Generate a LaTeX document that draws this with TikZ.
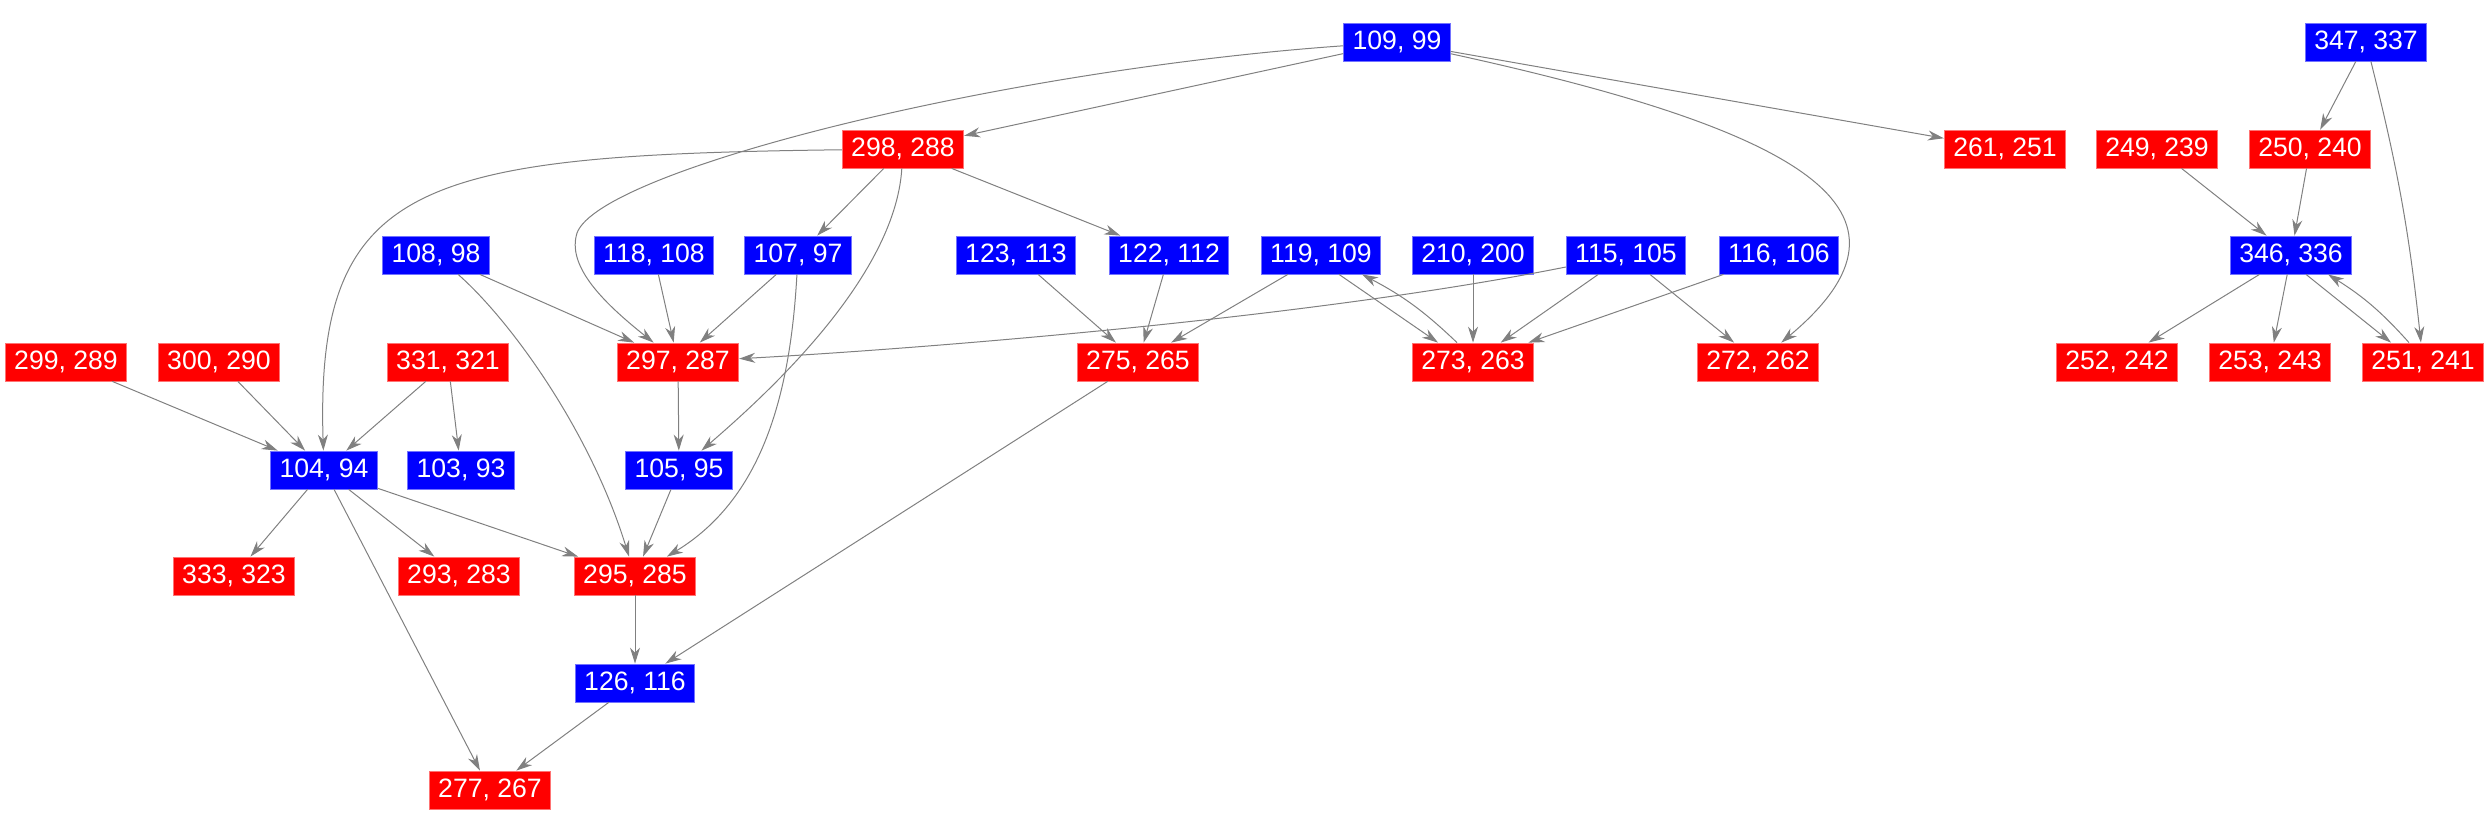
\documentclass[tikz,border=0pt]{standalone}
\usepackage{fontspec}
\setmainfont{Liberation Sans}
\usetikzlibrary{arrows.meta,calc}

\begin{document}
\begin{tikzpicture}[x=0.5pt,y=-0.5pt,
  box/.style={text=white,line width=0.4pt,inner xsep=4.5pt,inner ysep=0pt,minimum height=19pt,font=\fontsize{13.3}{16}\selectfont},
  bluebox/.style={box,fill=blue,draw=blue!55!white},
  redbox/.style={box,fill=red,draw=red!55!white},
  edge/.style={draw=gray,line width=0.5pt,-{Stealth[length=8pt,width=5pt,inset=2.5pt]}}]
\useasboundingbox (0,0) rectangle (2488,831);

% row 0 and 1
\node[bluebox] (v109) at (1397,42) {109, 99};
\node[bluebox] (v347) at (2366,42) {347, 337};
\node[redbox] (v298) at (903,149) {298, 288};
\node[redbox] (v261) at (2005,149) {261, 251};
\node[redbox] (v249) at (2157,149) {249, 239};
\node[redbox] (v250) at (2310,149) {250, 240};
% row 2
\node[bluebox] (v108) at (436,255) {108, 98};
\node[bluebox] (v118) at (654,255) {118, 108};
\node[bluebox] (v107) at (798,255) {107, 97};
\node[bluebox] (v123) at (1016,255) {123, 113};
\node[bluebox] (v122) at (1169,255) {122, 112};
\node[bluebox] (v119) at (1321,255) {119, 109};
\node[bluebox] (v210) at (1473,255) {210, 200};
\node[bluebox] (v115) at (1626,255) {115, 105};
\node[bluebox] (v116) at (1779,255) {116, 106};
\node[bluebox] (v346) at (2291,255) {346, 336};
% row 3
\node[redbox] (v299) at (66,362) {299, 289};
\node[redbox] (v300) at (219,362) {300, 290};
\node[redbox] (v331) at (448,362) {331, 321};
\node[redbox] (v297) at (678,362) {297, 287};
\node[redbox] (v275) at (1138,362) {275, 265};
\node[redbox] (v273) at (1473,362) {273, 263};
\node[redbox] (v272) at (1758,362) {272, 262};
\node[redbox] (v252) at (2117,362) {252, 242};
\node[redbox] (v253) at (2270,362) {253, 243};
\node[redbox] (v251) at (2423,362) {251, 241};
% rows 4 to 7
\node[bluebox] (v104) at (324,470) {104, 94};
\node[bluebox] (v103) at (461,470) {103, 93};
\node[bluebox] (v105) at (679,470) {105, 95};
\node[redbox] (v333) at (234,576) {333, 323};
\node[redbox] (v293) at (459,576) {293, 283};
\node[redbox] (v295) at (635,576) {295, 285};
\node[bluebox] (v126) at (635,683) {126, 116};
\node[redbox] (v277) at (490,790) {277, 267};

\draw[edge] (v109) -- (v298);
\draw[edge] (v109) .. controls (1000,70) and (600,170) .. (577,233) .. controls (567,265) and (600,300) .. (v297);
\draw[edge] (v109) -- (v261);
\draw[edge] (v109) .. controls (1800,130) and (1940,210) .. (v272);
\draw[edge] (v298) -- (v107);
\draw[edge] (v298) -- (v122);
\draw[edge] (v298) .. controls (420,155) and (315,180) .. (v104);
\draw[edge] (v298) .. controls (895,280) and (760,400) .. (v105);
\draw[edge] (v108) -- (v297);
\draw[edge] (v108) .. controls (510,320) and (590,430) .. (v295);
\draw[edge] (v118) -- (v297);
\draw[edge] (v107) -- (v297);
\draw[edge] (v107) .. controls (790,400) and (760,500) .. (v295);
\draw[edge] (v115) .. controls (1300,320) and (900,350) .. (v297);
\draw[edge] (v123) -- (v275);
\draw[edge] (v122) -- (v275);
\draw[edge] (v119) -- (v275);
\draw[edge] ($(v119.south)+(18,0)$) -- ($(v273.north)+(-35,0)$);
\draw[edge] ($(v273.north)+(-16,0)$) to[bend right=8] ($(v119.south)+(41,0)$);
\draw[edge] (v210) -- (v273);
\draw[edge] (v115) -- (v273);
\draw[edge] (v115) -- (v272);
\draw[edge] (v116) -- (v273);
\draw[edge] (v275) -- (v126);
\draw[edge] (v299) -- (v104);
\draw[edge] (v300) -- (v104);
\draw[edge] (v331) -- (v104);
\draw[edge] (v331) -- (v103);
\draw[edge] (v297) -- (v105);
\draw[edge] (v105) -- (v295);
\draw[edge] (v104) -- (v333);
\draw[edge] (v104) -- (v293);
\draw[edge] (v104) -- (v295);
\draw[edge] (v104) -- (v277);
\draw[edge] (v295) -- (v126);
\draw[edge] (v126) -- (v277);
\draw[edge] (v347) -- (v250);
\draw[edge] (v347) to[bend left=4] (v251);
\draw[edge] (v249) -- (v346);
\draw[edge] (v250) -- (v346);
\draw[edge] (v346) -- (v252);
\draw[edge] (v346) -- (v253);
\draw[edge] ($(v346.south)+(15,0)$) -- ($(v251.north)+(-32,0)$);
\draw[edge] ($(v251.north)+(-14,0)$) to[bend right=8] ($(v346.south)+(37,0)$);
\end{tikzpicture}
\end{document}
